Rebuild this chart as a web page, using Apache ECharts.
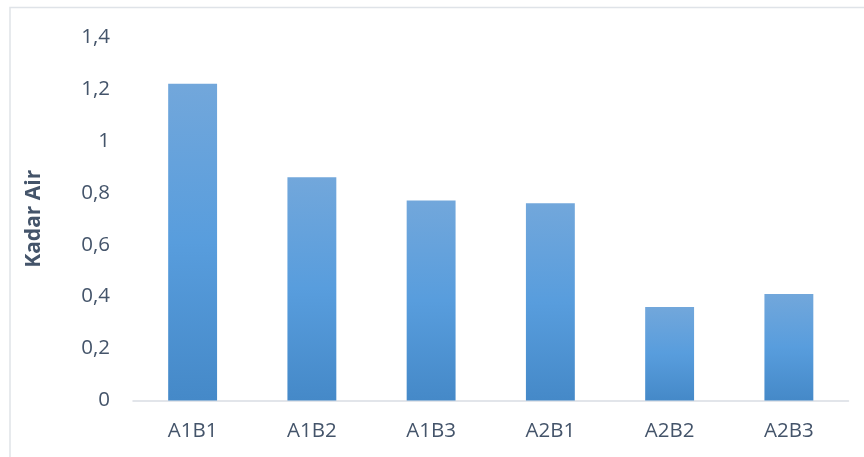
<!DOCTYPE html>
<html>
<head>
<meta charset="utf-8">
<title>Kadar Air</title>
<script src="https://cdn.jsdelivr.net/npm/echarts@6/dist/echarts.min.js"></script>
<style>
  html, body { margin: 0; padding: 0; background: #ffffff; }
  #chart { width: 864px; height: 457px; }
</style>
</head>
<body>
<div id="chart"></div>
<script>
// Treatment groups and their measured water content
const categories = ['A1B1', 'A1B2', 'A1B3', 'A2B1', 'A2B2', 'A2B3'];
const kadarAir = [1.22, 0.86, 0.77, 0.76, 0.36, 0.41];

// Value axis range
const yMin = 0;
const yMax = 1.4;
const yStep = 0.2;

const textColor = '#44546A';
const fontFamily = '"Open Sans", "Liberation Sans", sans-serif';

const chart = echarts.init(document.getElementById('chart'), null, { renderer: 'canvas' });

chart.setOption({
  backgroundColor: '#ffffff',
  animation: false,
  graphic: [{
    type: 'rect',
    shape: { x: 10, y: 7.5, width: 900, height: 500 },
    style: { fill: 'none', stroke: '#dfe3e8', lineWidth: 1.5 },
    silent: true,
    z: -1
  }],
  grid: { left: 133, right: 15.5, top: 37, bottom: 56.5 },
  xAxis: {
    type: 'category',
    data: categories,
    axisLine: { lineStyle: { color: '#d9dde3', width: 1.5 } },
    axisTick: { show: false },
    axisLabel: { color: textColor, fontFamily: fontFamily, fontSize: 20.5, margin: 20 },
    splitLine: { show: false }
  },
  yAxis: {
    type: 'value',
    min: yMin,
    max: yMax,
    interval: yStep,
    name: 'Kadar Air',
    nameLocation: 'middle',
    nameRotate: 90,
    nameGap: 88,
    nameTextStyle: { color: textColor, fontFamily: fontFamily, fontSize: 21, fontWeight: 'bold' },
    axisLine: { show: false },
    axisTick: { show: false },
    splitLine: { show: false },
    axisLabel: {
      color: textColor,
      fontFamily: fontFamily,
      fontSize: 20.5,
      margin: 23,
      formatter: v => String(+v.toFixed(1)).replace('.', ',')
    }
  },
  series: [{
    type: 'bar',
    data: kadarAir,
    barWidth: '41%',
    itemStyle: {
      color: new echarts.graphic.LinearGradient(0, 0, 0, 1, [
        { offset: 0, color: '#72a7db' },
        { offset: 0.5, color: '#589ddd' },
        { offset: 1, color: '#4589c8' }
      ])
    }
  }]
});
</script>
</body>
</html>
